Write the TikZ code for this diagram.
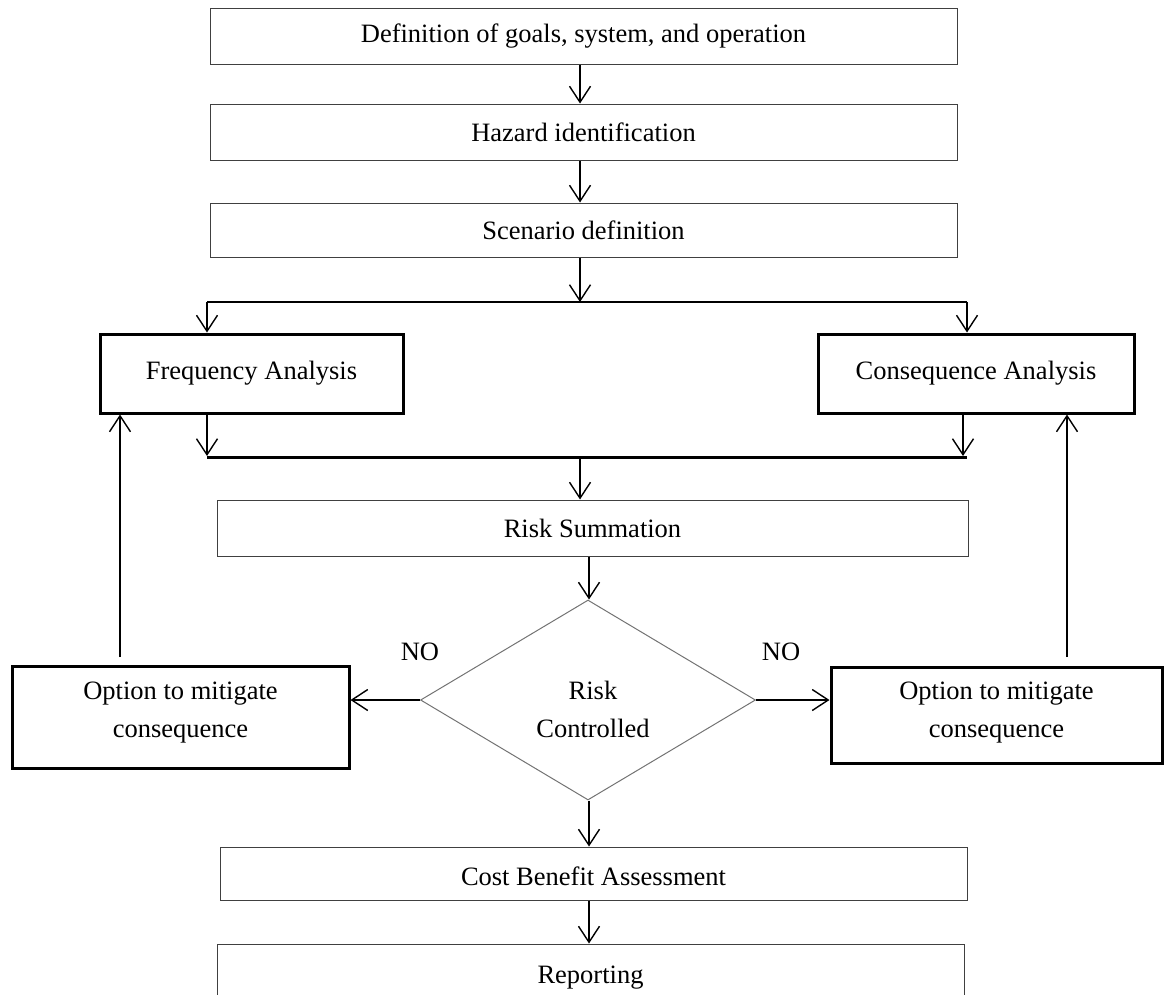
\documentclass[tikz,border=0pt]{standalone}
\usepackage{fontspec}
\setmainfont{Liberation Serif}
\usetikzlibrary{arrows.meta,shapes.geometric,calc}
\begin{document}
\begin{tikzpicture}[x=1pt,y=-1pt,
  font=\fontsize{26.5}{38}\selectfont,
  thinbox/.style={draw=black!75,line width=1pt,rectangle,inner sep=0pt,align=center},
  thickbox/.style={draw=black,line width=3pt,rectangle,inner sep=0pt,align=center},
  arr/.style={draw=black,line width=1.4pt,-{Straight Barb[length=16pt,width=21pt,line width=1.4pt]}},
  plain/.style={draw=black,line width=1.5pt},
  lbl/.style={align=center,inner sep=0pt}
]
\useasboundingbox (0,0) rectangle (1165,994);

% boxes
\node[thinbox,minimum width=747pt,minimum height=56pt] (def) at (583.5,36) {Definition of goals, system, and operation};
\node[thinbox,minimum width=747pt,minimum height=56pt] (haz) at (583.5,132) {Hazard identification};
\node[thinbox,minimum width=747pt,minimum height=54pt] (scen) at (583.5,230) {Scenario definition};
\node[thickbox,minimum width=303pt,minimum height=79pt] (freq) at (251.5,373.5) {Frequency Analysis};
\node[thickbox,minimum width=316pt,minimum height=79pt] (cons) at (976,373.5) {Consequence Analysis};
\node[thinbox,minimum width=751pt,minimum height=56pt] (rs) at (592.5,528) {Risk Summation};
\node[draw=black!55,line width=1pt,diamond,aspect=1.67,inner sep=0pt,
      minimum width=335pt,minimum height=200pt,
      label={[lbl,xshift=5pt,yshift=-9pt]center:Risk\\Controlled}] (rc) at (588,700) {};
\node[thickbox,minimum width=337pt,minimum height=102pt,
      label={[lbl,yshift=4.5pt]center:Option to mitigate\\consequence}] (mitL) at (180.5,717) {};
\node[thickbox,minimum width=331pt,minimum height=96pt,
      label={[lbl,yshift=2.5pt]center:Option to mitigate\\consequence}] (mitR) at (996.5,715) {};
\node[thinbox,minimum width=747pt,minimum height=53pt,
      label={[lbl,yshift=-3pt]center:Cost Benefit Assessment}] (cba) at (593.5,873.5) {};
\node[thinbox,minimum width=747pt,minimum height=68pt] (rep) at (590.5,978) {Reporting};

% labels
\node (noL) at (420,652) {NO};
\node (noR) at (781,652) {NO};

% helper coordinates
\coordinate (spine) at (580,0);
\coordinate (spine2) at (589,0);
\coordinate (splitL) at (207,302);
\coordinate (splitR) at (967,302);
\coordinate (split) at (580,302);
\coordinate (mergeL) at (207,457);
\coordinate (mergeR) at (967,457);
\coordinate (merge) at (580,457);
\coordinate (upL) at (120,657);
\coordinate (upR) at (1067,657);

% connectors
\draw[arr] (def.south -| spine) -- (haz.north -| spine);
\draw[arr] (haz.south -| spine) -- (scen.north -| spine);
\draw[arr] (scen.south -| spine) -- (split);
\draw[plain] (splitL) -- (splitR);
\draw[arr] (splitL) -- (freq.north -| splitL);
\draw[arr] (splitR) -- (cons.north -| splitR);
\draw[arr] (freq.south -| mergeL) -- ($(mergeL)+(0,-1)$);
\draw[arr,line width=2pt] (cons.south -| 963,0) -- (963,456);
\draw[draw=black,line width=3pt] (mergeL) -- (mergeR);
\draw[arr] (merge) -- (rs.north -| merge);
\draw[arr,line width=2pt] (rs.south -| spine2) -- (rc.north -| spine2);
\draw[arr] (rc.west) -- (rc.west -| mitL.east);
\draw[arr] (rc.east) -- (rc.east -| mitR.west);
\draw[arr] (rc.south -| spine2) -- (cba.north -| spine2);
\draw[arr] (cba.south -| spine2) -- (rep.north -| spine2);
\draw[arr] (upL) -- (freq.south -| upL);
\draw[arr,line width=2.2pt] (upR) -- (cons.south -| upR);
\end{tikzpicture}
\end{document}
